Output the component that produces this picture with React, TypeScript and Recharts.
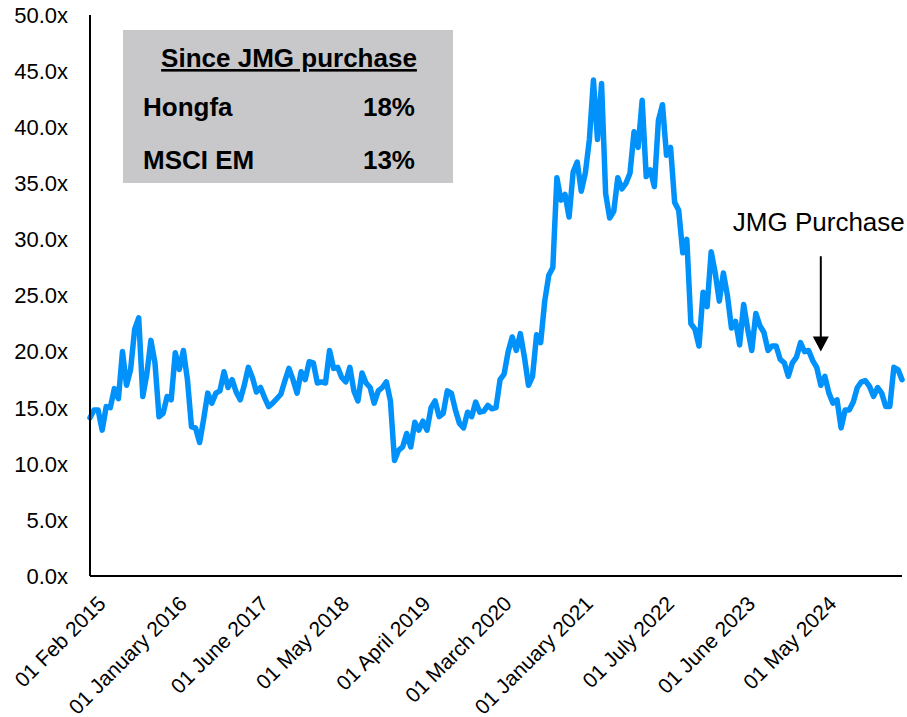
import React from 'react';
import { LineChart, Line, XAxis, YAxis, ReferenceLine } from 'recharts';

const FONT = '"Liberation Sans", Arial, sans-serif';

// category labels shown on the axis, one every LABEL_EVERY points
const tickLabels = [
  '01 Feb 2015',
  '01 January 2016',
  '01 June 2017',
  '01 May 2018',
  '01 April 2019',
  '01 March 2020',
  '01 January 2021',
  '01 July 2022',
  '01 June 2023',
  '01 May 2024',
];
const LABEL_EVERY = 20;

const yTicks = [0, 5, 10, 15, 20, 25, 30, 35, 40, 45, 50];

// Hongfa forward P/E
const peValues = [
  14.1, 14.8, 14.8, 13.0, 15.1, 15.0, 16.7, 15.8, 20.0, 17.0, 18.4, 22.0, 23.0, 16.0, 18.0, 21.0, 19.0, 14.2, 14.5, 16.0,
  15.7, 19.9, 18.4, 20.1, 17.5, 13.3, 13.2, 11.9, 14.0, 16.3, 15.4, 16.3, 16.5, 18.2, 16.8, 17.5, 16.4, 15.7, 17.0, 18.6,
  17.7, 16.4, 16.8, 15.9, 15.1, 15.4, 15.8, 16.2, 17.4, 18.5, 17.5, 16.3, 18.2, 17.5, 19.1, 19.0, 17.2, 17.3, 17.2, 20.1,
  18.5, 18.6, 17.7, 17.3, 18.6, 16.5, 15.6, 18.1, 17.2, 16.8, 15.4, 16.5, 16.8, 17.3, 15.6, 10.3, 11.2, 11.5, 12.7, 11.5,
  13.7, 13.0, 13.8, 13.0, 15.0, 15.6, 14.2, 14.5, 16.5, 16.3, 14.8, 13.6, 13.2, 14.6, 14.2, 15.5, 14.6, 14.7, 15.2, 14.9,
  15.0, 17.5, 18.0, 20.0, 21.3, 20.1, 21.6, 19.5, 17.0, 17.8, 21.5, 20.8, 24.5, 26.8, 27.5, 35.5, 33.5, 34.0, 32.0, 36.0,
  36.9, 34.3, 35.9, 38.9, 44.2, 38.9, 43.9, 34.1, 31.9, 32.5, 35.5, 34.5, 35.0, 35.9, 39.6, 38.2, 42.4, 35.6, 36.2, 34.7,
  40.6, 42.0, 37.5, 38.2, 33.3, 32.6, 28.8, 30.0, 22.5, 22.0, 20.5, 25.3, 24.0, 28.9, 27.0, 24.5, 27.0, 25.0, 22.1, 22.7,
  20.6, 24.2, 22.0, 20.1, 23.4, 22.3, 21.7, 20.1, 20.5, 20.5, 19.3, 19.0, 17.8, 19.0, 19.5, 20.8, 20.0, 20.1, 19.2, 18.6,
  17.0, 17.8, 16.3, 15.4, 15.7, 13.2, 14.8, 14.8, 15.5, 16.8, 17.3, 17.4, 16.9, 16.0, 16.8, 16.3, 15.1, 15.1, 18.6, 18.4,
  17.5,
];

const PURCHASE_INDEX = 180;
const ARROW_FROM = 28.5;
const ARROW_TO = 20;

const boxTitle = 'Since JMG purchase';
const boxNames = ['Hongfa', 'MSCI EM'];
const boxReturns = ['18%', '13%'];

const data = peValues.map((pe, i) => ({ i, pe }));

const XTick = (props: any) => {
  const { x, y, payload } = props;
  const label = tickLabels[payload.value / LABEL_EVERY];
  if (!label) return <g />;
  return (
    <g transform={`translate(${x + 17},${y + 21})`}>
      <text
        textAnchor="end"
        transform="rotate(-45)"
        fontSize={21}
        fill="#000"
        fontFamily={FONT}
      >
        {label}
      </text>
    </g>
  );
};

const YTick = (props: any) => {
  const { x, y, payload } = props;
  return (
    <text
      x={x - 14}
      y={y}
      dy="0.355em"
      textAnchor="end"
      fontSize={22}
      fill="#000"
      fontFamily={FONT}
    >
      {`${Number(payload.value).toFixed(1)}x`}
    </text>
  );
};

const PurchaseArrow = (props: any) => {
  const { x1, y1, x2, y2 } = props;
  return (
    <g>
      <text
        x={x1 - 2}
        y={y1 - 25}
        textAnchor="middle"
        fontSize={26}
        fill="#000"
        fontFamily={FONT}
      >
        JMG Purchase
      </text>
      <line x1={x1} y1={y1} x2={x2} y2={y2 - 14} stroke="#000" strokeWidth={2} />
      <polygon
        points={`${x2 - 8},${y2 - 15} ${x2 + 8},${y2 - 15} ${x2},${y2}`}
        fill="#000"
      />
    </g>
  );
};

export default function App() {
  return (
    <div
      style={{
        position: 'absolute',
        left: 0,
        top: 0,
        width: 907,
        height: 717,
        background: '#fff',
        fontFamily: FONT,
      }}
    >
      <LineChart
        width={907}
        height={717}
        data={data}
        margin={{ top: 15, right: 5, bottom: 11, left: 0 }}
      >
        <XAxis
          dataKey="i"
          type="category"
          interval={LABEL_EVERY - 1}
          tick={XTick}
          tickLine={false}
          axisLine={{ stroke: '#000', strokeWidth: 2 }}
          height={130}
        />
        <YAxis
          domain={[0, 50]}
          ticks={yTicks}
          tick={YTick}
          tickLine={false}
          axisLine={{ stroke: '#000', strokeWidth: 2 }}
          width={90}
        />
        <Line
          type="linear"
          dataKey="pe"
          stroke="#0092FA"
          strokeWidth={5.5}
          strokeLinejoin="round"
          strokeLinecap="round"
          dot={false}
          activeDot={false}
          isAnimationActive={false}
        />
        <ReferenceLine
          segment={[
            { x: PURCHASE_INDEX, y: ARROW_FROM },
            { x: PURCHASE_INDEX, y: ARROW_TO },
          ]}
          shape={PurchaseArrow}
          ifOverflow="visible"
        />
      </LineChart>
      <svg
        width={907}
        height={717}
        style={{ position: 'absolute', left: 0, top: 0, pointerEvents: 'none' }}
      >
        <rect x={123} y={30} width={330} height={153} fill="#C8C8CA" />
        <text
          x={289}
          y={67}
          textAnchor="middle"
          fontSize={26}
          fontWeight="bold"
          fontFamily={FONT}
          textDecoration="underline"
          fill="#000"
        >
          {boxTitle}
        </text>
        {boxNames.map((name, k) => (
          <g key={name}>
            <text x={143} y={116 + k * 53} fontSize={26} fontWeight="bold" fontFamily={FONT} fill="#000">
              {name}
            </text>
            <text
              x={415}
              y={116 + k * 53}
              textAnchor="end"
              fontSize={26}
              fontWeight="bold"
              fontFamily={FONT}
              fill="#000"
            >
              {boxReturns[k]}
            </text>
          </g>
        ))}
      </svg>
    </div>
  );
}
